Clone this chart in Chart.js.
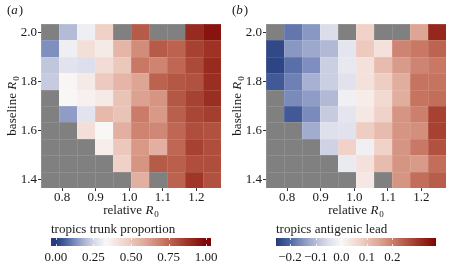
<!DOCTYPE html>
<html>
<head>
<meta charset="utf-8">
<script src="https://cdn.jsdelivr.net/npm/chart.js@4.4.0/dist/chart.umd.min.js"></script>
<style>
    body { margin: 0; background: #fff; width: 450px; height: 270px; position: relative; overflow: hidden; }
    canvas { position: absolute; }
</style>
</head>
<body>
<canvas id="heat-a" width="225" height="218" style="left:0;top:0"></canvas>
<canvas id="heat-b" width="225" height="218" style="left:225px;top:0"></canvas>
<canvas id="bar-a" width="225" height="52" style="left:0;top:218px"></canvas>
<canvas id="bar-b" width="225" height="52" style="left:225px;top:218px"></canvas>
<script>
// cell centres: relative R0 across, baseline R0 top to bottom
var relativeR0 = [0.764, 0.818, 0.871, 0.925, 0.978, 1.032, 1.086, 1.139, 1.193, 1.246];
var baselineR0 = [2.0, 1.933, 1.867, 1.8, 1.733, 1.667, 1.6, 1.533, 1.467, 1.4];

var xTicks = [0.8, 0.9, 1.0, 1.1, 1.2];
var yTicks = [1.4, 1.6, 1.8, 2.0];
var trunkTicks = [0, 0.25, 0.5, 0.75, 1.0];
var leadTicks = [-0.2, -0.1, 0, 0.1, 0.2];

// (a) tropics trunk proportion, null = no data (grey)
var trunkProportion = [
    [null, 0.20, 0.31, 0.47, null, 0.78, null, null, 0.90, 0.96],
    [0.13, 0.31, 0.42, 0.38, 0.55, 0.66, 0.78, 0.76, 0.84, 0.88],
    [0.22, 0.28, 0.27, 0.43, 0.50, 0.71, 0.68, 0.75, 0.82, 0.90],
    [0.23, 0.34, 0.38, 0.49, 0.55, 0.60, 0.76, 0.79, 0.80, 0.89],
    [null, 0.335, 0.36, 0.38, 0.51, 0.61, 0.64, 0.79, 0.84, 0.89],
    [null, 0.15, 0.28, 0.54, 0.51, 0.70, 0.63, 0.77, 0.83, 0.85],
    [null, null, 0.42, 0.335, 0.57, 0.68, 0.67, 0.75, 0.81, 0.80],
    [null, null, null, 0.37, 0.50, 0.63, 0.57, 0.75, 0.84, 0.81],
    [null, null, null, null, 0.47, 0.64, 0.78, 0.77, 0.81, 0.81],
    [null, null, null, null, null, 0.57, null, 0.76, 0.87, 0.80]
];

// (b) tropics antigenic lead
var antigenicLead = [
    [null, -0.182, -0.146, -0.052, null, 0.074, null, null, 0.148, 0.319],
    [-0.239, -0.146, -0.125, -0.104, -0.036, 0.088, 0.044, 0.192, 0.208, 0.236],
    [-0.244, -0.192, -0.156, -0.073, -0.031, 0.044, 0.111, 0.162, 0.192, 0.208],
    [-0.218, -0.172, -0.114, -0.073, -0.042, 0.044, 0.081, 0.134, 0.215, 0.215],
    [null, -0.161, -0.140, -0.104, -0.016, 0.023, 0.060, 0.134, 0.215, 0.222],
    [null, -0.218, -0.161, -0.078, -0.036, 0.030, 0.074, 0.171, 0.199, 0.282],
    [null, null, -0.120, -0.047, -0.042, 0.081, 0.111, 0.171, 0.178, 0.282],
    [null, null, null, -0.068, 0.074, -0.016, 0.074, 0.171, 0.208, 0.259],
    [null, null, null, null, -0.026, 0.044, 0.111, 0.171, 0.162, 0.222],
    [null, null, null, null, null, 0.030, null, 0.171, 0.222, 0.245]
];

var SERIF = '"Liberation Serif", "DejaVu Serif", serif';
var TEXT = '#1a1a1a';
var MISSING = '#808080';

// diverging map, white in the middle
var cmapStops = [
    [0.00, [38, 60, 125]],
    [0.10, [75, 100, 160]],
    [0.20, [130, 145, 192]],
    [0.30, [180, 187, 214]],
    [0.40, [220, 222, 235]],
    [0.50, [249, 247, 247]],
    [0.60, [240, 210, 200]],
    [0.70, [222, 165, 148]],
    [0.80, [195, 110, 90]],
    [0.90, [160, 55, 40]],
    [1.00, [125, 5, 5]]
];

function cmap(t) {
    t = Math.max(0, Math.min(1, t));
    for (var i = 1; i < cmapStops.length; i++) {
        if (t <= cmapStops[i][0]) {
            var a = cmapStops[i - 1], b = cmapStops[i];
            var f = (t - a[0]) / (b[0] - a[0]);
            return 'rgb(' + [0, 1, 2].map(function(k) {
                return Math.round(a[1][k] + f * (b[1][k] - a[1][k]));
            }).join(',') + ')';
        }
    }
    return 'rgb(125,5,5)';
}

function twoSlope(vmin, vcenter, vmax) {
    return function(v) {
        if (v < vcenter) return 0.5 * (v - vmin) / (vcenter - vmin);
        return 0.5 + 0.5 * (v - vcenter) / (vmax - vcenter);
    };
}

var halfW = (relativeR0[1] - relativeR0[0]) / 2;
var halfH = (baselineR0[0] - baselineR0[1]) / 2;

function cellData(rows) {
    var out = [];
    rows.forEach(function(row, r) {
        row.forEach(function(v, c) {
            out.push({ x: relativeR0[c], y: baselineR0[r], v: v });
        });
    });
    return out;
}

function fmtTick(v, digits) {
    var s = Math.abs(v).toFixed(digits);
    return (v < -1e-9 ? '\u2212' : '') + s;
}

// "prefix R0" with italic R and subscript 0, centred on (0,0)
function drawRLabel(ctx, prefix) {
    ctx.font = '13px ' + SERIF;
    var w1 = ctx.measureText(prefix).width;
    ctx.font = 'italic 13px ' + SERIF;
    var w2 = ctx.measureText('R').width;
    ctx.font = '9px ' + SERIF;
    var w3 = ctx.measureText('0').width;
    var x = -(w1 + w2 + w3 + 1) / 2;
    ctx.textAlign = 'left';
    ctx.textBaseline = 'alphabetic';
    ctx.font = '13px ' + SERIF;
    ctx.fillText(prefix, x, 4);
    ctx.font = 'italic 13px ' + SERIF;
    ctx.fillText('R', x + w1, 4);
    ctx.font = '9px ' + SERIF;
    ctx.fillText('0', x + w1 + w2 + 1, 7);
}

/**
 * Heatmap cells, drawn through the chart scales
 */
var heatmapCells = {
    id: 'heatmapCells',
    beforeDatasetsDraw: function(chart, args, opts) {
        var ctx = chart.ctx, xs = chart.scales.x, ys = chart.scales.y;
        ctx.save();
        chart.data.datasets[0].data.forEach(function(d) {
            var x0 = Math.round(xs.getPixelForValue(d.x - halfW));
            var x1 = Math.round(xs.getPixelForValue(d.x + halfW));
            var y0 = Math.round(ys.getPixelForValue(d.y + halfH));
            var y1 = Math.round(ys.getPixelForValue(d.y - halfH));
            ctx.fillStyle = d.v === null ? MISSING : cmap(opts.norm(d.v));
            ctx.fillRect(x0, y0, x1 - x0, y1 - y0);
            ctx.strokeStyle = 'rgba(255,255,255,0.12)';
            ctx.lineWidth = 1;
            ctx.strokeRect(x0 + 0.5, y0 + 0.5, x1 - x0, y1 - y0);
        });
        ctx.restore();
    },
    afterDraw: function(chart, args, opts) {
        var ctx = chart.ctx, area = chart.chartArea;
        ctx.save();
        ctx.fillStyle = TEXT;
        // panel letter
        ctx.textBaseline = 'alphabetic';
        ctx.textAlign = 'left';
        ctx.font = '13px ' + SERIF;
        ctx.fillText('(', 7, 14);
        var wp = ctx.measureText('(').width;
        ctx.font = 'italic 13px ' + SERIF;
        ctx.fillText(opts.letter, 7 + wp, 14);
        var wl = ctx.measureText(opts.letter).width;
        ctx.font = '13px ' + SERIF;
        ctx.fillText(')', 7 + wp + wl + 1, 14);
        // x title
        ctx.save();
        ctx.translate((area.left + area.right) / 2, 210);
        drawRLabel(ctx, 'relative ');
        ctx.restore();
        // y title
        ctx.save();
        ctx.translate(12, (area.top + area.bottom) / 2);
        ctx.rotate(-Math.PI / 2);
        drawRLabel(ctx, 'baseline ');
        ctx.restore();
        ctx.restore();
    }
};

/**
 * Colour bar gradient plus its title
 */
var colorStrip = {
    id: 'colorStrip',
    beforeDatasetsDraw: function(chart, args, opts) {
        var ctx = chart.ctx, xs = chart.scales.x, area = chart.chartArea;
        ctx.save();
        for (var px = Math.floor(area.left); px < Math.ceil(area.right); px++) {
            ctx.fillStyle = cmap(opts.norm(xs.getValueForPixel(px + 0.5)));
            ctx.fillRect(px, area.top, 1, area.bottom - area.top);
        }
        // little white tick marks inside the bar
        ctx.strokeStyle = 'rgba(255,255,255,0.8)';
        ctx.lineWidth = 1;
        opts.ticks.forEach(function(v) {
            var p = Math.round(xs.getPixelForValue(v)) + 0.5;
            ctx.beginPath();
            ctx.moveTo(p, area.top); ctx.lineTo(p, area.top + 2);
            ctx.moveTo(p, area.bottom - 2); ctx.lineTo(p, area.bottom);
            ctx.stroke();
        });
        ctx.fillStyle = TEXT;
        ctx.font = '13px ' + SERIF;
        ctx.textAlign = 'left';
        ctx.textBaseline = 'alphabetic';
        ctx.fillText(opts.title, area.left, 15);
        ctx.restore();
    }
};

function makeHeatmap(id, rows, norm, letter) {
    return new Chart(document.getElementById(id), {
        type: 'scatter',
        data: {
            datasets: [{ data: cellData(rows), pointRadius: 0, pointHoverRadius: 0 }]
        },
        options: {
            responsive: false,
            animation: false,
            events: [],
            layout: { padding: { top: 24, right: 4, left: 0, bottom: 0 } },
            plugins: {
                legend: { display: false },
                tooltip: { enabled: false },
                heatmapCells: { norm: norm, letter: letter }
            },
            scales: {
                x: {
                    type: 'linear',
                    min: relativeR0[0] - halfW,
                    max: relativeR0[relativeR0.length - 1] + halfW,
                    afterBuildTicks: function(s) {
                        s.ticks = xTicks.map(function(v) { return { value: v }; });
                    },
                    afterFit: function(s) { s.height = 30; },
                    border: { display: false },
                    grid: { drawOnChartArea: false, tickLength: 3, tickColor: '#333', tickWidth: 1 },
                    ticks: {
                        color: TEXT,
                        padding: -1,
                        maxRotation: 0,
                        font: { family: SERIF, size: 13 },
                        callback: function(v) { return fmtTick(v, 1); }
                    }
                },
                y: {
                    type: 'linear',
                    min: baselineR0[baselineR0.length - 1] - halfH,
                    max: baselineR0[0] + halfH,
                    afterBuildTicks: function(s) {
                        s.ticks = yTicks.map(function(v) { return { value: v }; });
                    },
                    afterFit: function(s) { s.width = 41; },
                    border: { display: false },
                    grid: { drawOnChartArea: false, tickLength: 3, tickColor: '#333', tickWidth: 1 },
                    ticks: {
                        color: TEXT,
                        padding: 1,
                        font: { family: SERIF, size: 13 },
                        callback: function(v) { return fmtTick(v, 1); }
                    }
                }
            }
        },
        plugins: [heatmapCells]
    });
}

function makeColorbar(id, lo, hi, ticks, digits, norm, title) {
    return new Chart(document.getElementById(id), {
        type: 'scatter',
        data: { datasets: [] },
        options: {
            responsive: false,
            animation: false,
            events: [],
            layout: { padding: { top: 20, left: 51, right: 14, bottom: 0 } },
            plugins: {
                legend: { display: false },
                tooltip: { enabled: false },
                colorStrip: { norm: norm, ticks: ticks, title: title }
            },
            scales: {
                x: {
                    type: 'linear',
                    min: lo,
                    max: hi,
                    afterBuildTicks: function(s) {
                        s.ticks = ticks.map(function(v) { return { value: v }; });
                    },
                    afterFit: function(s) { s.height = 24; },
                    border: { display: false },
                    grid: { display: false },
                    ticks: {
                        color: TEXT,
                        padding: -4,
                        maxRotation: 0,
                        font: { family: SERIF, size: 13 },
                        callback: function(v) { return fmtTick(v, digits); }
                    }
                },
                y: { display: false, min: 0, max: 1 }
            }
        },
        plugins: [colorStrip]
    });
}

var trunkNorm = twoSlope(0, 1 / 3, 1);
var leadNorm = twoSlope(-0.255, 0, 0.37);

makeHeatmap('heat-a', trunkProportion, trunkNorm, 'a');
makeHeatmap('heat-b', antigenicLead, leadNorm, 'b');
makeColorbar('bar-a', -0.033, 1.033, trunkTicks, 2, trunkNorm, 'tropics trunk proportion');
makeColorbar('bar-b', -0.255, 0.37, leadTicks, 1, leadNorm, 'tropics antigenic lead');
</script>
</body>
</html>
